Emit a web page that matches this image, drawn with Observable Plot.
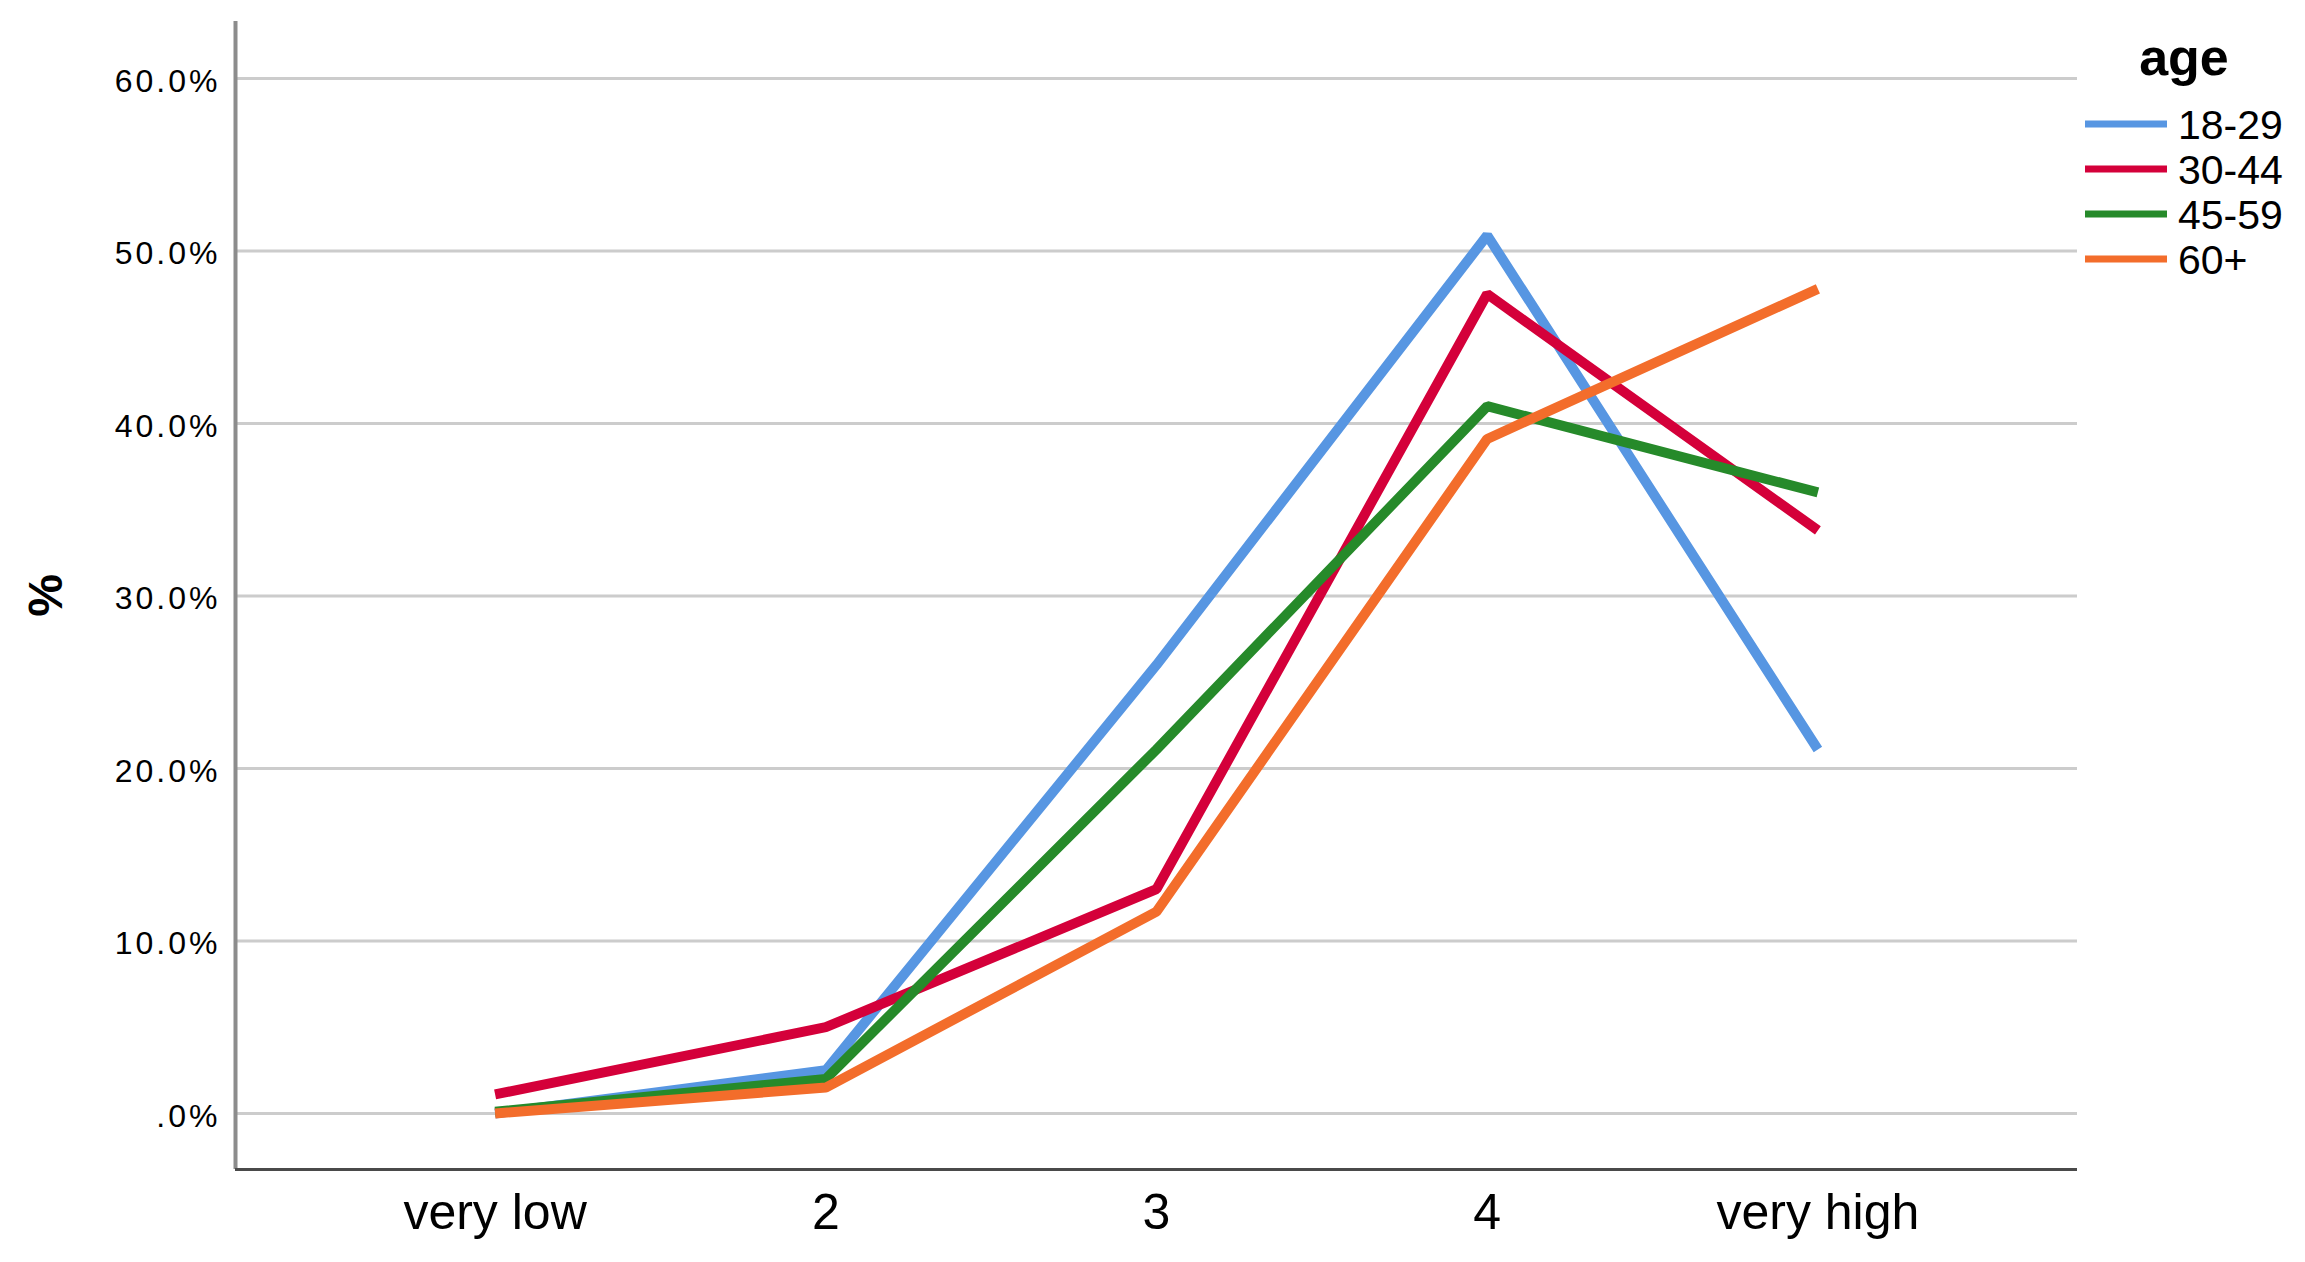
<!DOCTYPE html>
<html><head><meta charset="utf-8">
<script src="https://cdn.jsdelivr.net/npm/d3@7"></script>
<script src="https://cdn.jsdelivr.net/npm/@observablehq/plot@0.6"></script>
<style>
body{margin:0;background:#fff;font-family:"Liberation Sans",Arial,sans-serif;}
#wrap{display:flex;width:2305px;height:1262px;}
#legend{width:225px;height:1262px;}
</style></head><body>
<div id="wrap"><div id="chart"></div><div id="legend"></div></div>
<script>
const categories = ["very low", "2", "3", "4", "very high"];
const groups = ["18-29", "30-44", "45-59", "60+"];
const colors = ["#5796e2", "#d4003a", "#268a2a", "#f36d2b"];
const v1829 = [0.0, 2.5, 26.0, 50.9, 21.1];
const v3044 = [1.1, 5.0, 13.0, 47.5, 33.8];
const v4559 = [0.1, 2.0, 21.1, 41.0, 36.0];
const v60 = [0.0, 1.5, 11.7, 39.1, 47.8];
const yTicks = [0, 10, 20, 30, 40, 50, 60];

const series = [v1829, v3044, v4559, v60];
const data = [];
series.forEach((vals, g) => vals.forEach((v, i) => data.push({i, cat: categories[i], group: groups[g], value: v})));

const xDomain = [-0.785, categories.length - 1 + 0.785];
const yDomain = [-3.25, 63.3];

const chart = Plot.plot({
  width: 2080,
  height: 1262,
  marginLeft: 235,
  marginRight: 3,
  marginTop: 21,
  marginBottom: 93,
  style: {fontFamily: "Liberation Sans, Arial, sans-serif", background: "#fff"},
  x: {type: "linear", domain: xDomain, label: null},
  y: {domain: yDomain, label: null},
  color: {domain: groups, range: colors},
  marks: [
    Plot.ruleY(yTicks, {stroke: "#cccccc", strokeWidth: 3}),
    Plot.ruleX([xDomain[0]], {stroke: "#8c8c8c", strokeWidth: 4}),
    Plot.ruleY([yDomain[0]], {stroke: "#4a4a4a", strokeWidth: 3}),
    Plot.axisY(yTicks, {
      tickSize: 0, tickPadding: 15, fontSize: 32,
      tickFormat: d => d === 0 ? ".0%" : d.toFixed(1) + "%",
      label: "%", labelAnchor: "center", labelArrow: "none", labelOffset: 208
    }),
    Plot.axisX(categories.map((c, i) => i), {
      tickSize: 0, tickPadding: 24, fontSize: 50,
      tickFormat: i => categories[i], label: null
    }),
    Plot.line(data, {x: "i", y: "value", z: "group", stroke: "group", strokeWidth: 10, strokeLinejoin: "miter", strokeLinecap: "butt"})
  ]
});
document.getElementById("chart").appendChild(chart);

const svg = d3.select(chart);
svg.selectAll('[aria-label="y-axis tick label"] text').style("letter-spacing", "3px").attr("dy", "0.1em");
svg.selectAll('[aria-label="y-axis label"] text').style("font-weight", "bold").style("font-size", "48px").style("font-family", "Liberation Sans, Arial, sans-serif");

// legend
const lg = d3.select("#legend").append("svg").attr("width", 225).attr("height", 320)
  .style("font-family", "Liberation Sans, Arial, sans-serif");
lg.append("text").attr("x", 104).attr("y", 75).attr("text-anchor", "middle")
  .attr("font-size", 52).attr("font-weight", "bold").text("age");
groups.forEach((g, k) => {
  const y = 124 + k * 45;
  lg.append("line").attr("x1", 5).attr("x2", 87).attr("y1", y).attr("y2", y)
    .attr("stroke", colors[k]).attr("stroke-width", 7);
  lg.append("text").attr("x", 98).attr("y", y).attr("dy", "0.36em")
    .attr("font-size", 41).text(g);
});
</script>
</body></html>
